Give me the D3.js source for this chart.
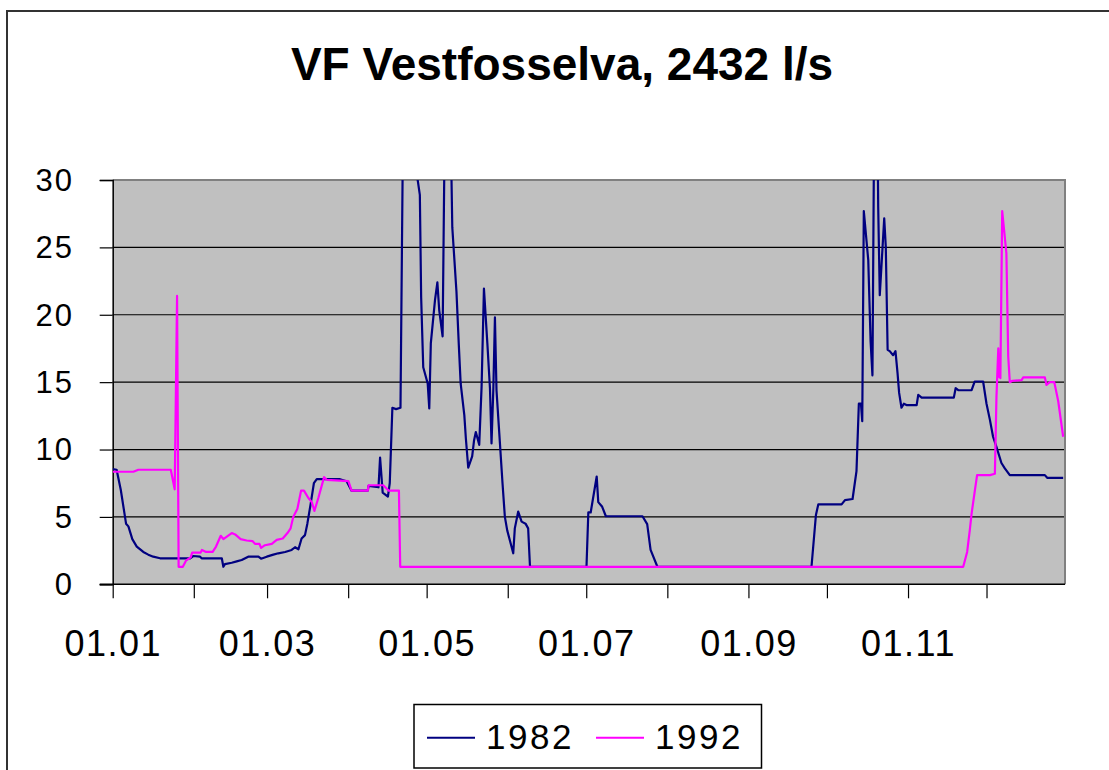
<!DOCTYPE html>
<html><head><meta charset="utf-8">
<script src="https://cdn.jsdelivr.net/npm/d3@7"></script>
<style>body{margin:0;background:#fff}svg{display:block}</style>
</head><body><svg id="c" width="1109" height="770"></svg>
<script>
const title = "VF Vestfosselva, 2432 l/s";
const seriesNames = ["1982", "1992"];
const seriesColors = ["#000080", "#FF00FF"];
const yTicks = [0, 5, 10, 15, 20, 25, 30];
const monthStarts = [0, 31, 59, 90, 120, 151, 181, 212, 243, 273, 304, 334];
const monthLabels = ["01.01", "", "01.03", "", "01.05", "", "01.07", "", "01.09", "", "01.11", ""];

// 1982 (day of year, l/s)
const days1982 = [0,1.5,3.1,4.3,5.1,6.0,7.5,9.2,11.7,13.6,15.5,18.1,29.6,30.8,33.4,34.0,41.7,42.3,42.9,45.5,47.4,49.3,51.8,55.7,56.7,58.9,61.4,63.3,65.9,68.4,69.7,71.0,72.2,73.5,74.4,75.7,76.9,78.0,86.9,89.4,91.3,97.5,97.8,101.6,102.2,103.2,105.2,105.9,106.9,108.3,110.0,111.5,114,116.2,117.4,117.9,118.7,120.4,121.0,121.6,123.2,124.1,124.8,126.1,127.5,128.5,129.8,131.4,132.3,133.0,134.4,135.0,135.9,137.4,138.1,138.8,140.1,141.0,141.9,143.2,144.2,144.8,145.5,146.1,146.7,147.6,149.0,149.9,150.8,152.1,153.1,153.7,155.0,156.3,157.8,158.8,159.5,181.1,181.8,182.7,185.0,185.6,187.1,188.5,202.5,204.3,205.6,208.2,267.1,268.8,269.7,278.6,279.9,282.8,284.3,285.2,286.0,286.5,287.1,288.8,289.7,290.4,291.5,292.3,292.6,293.2,294.9,295.5,296.2,297.0,298.3,299.2,300.0,300.6,301.5,302.4,303.4,307.3,307.9,309.2,321.5,322.2,323.2,328.3,329.5,332.7,334.0,335.3,336.5,337.8,339.7,341.0,342.9,356.3,357.2,363.3];
const vals1982 = [8.55,8.5,7.0,5.5,4.5,4.3,3.35,2.8,2.4,2.2,2.05,1.93,1.93,2.1,2.05,1.93,1.93,1.3,1.5,1.6,1.7,1.8,2.05,2.05,1.9,2.05,2.2,2.3,2.4,2.55,2.75,2.6,3.4,3.65,4.5,6.0,7.5,7.8,7.8,7.65,6.95,6.95,7.3,7.2,9.4,6.8,6.5,7.5,13.1,13.0,13.1,45,40,30.5,28.9,21.3,16.1,14.9,13.05,17.9,21.1,22.4,20.35,18.4,45,42,26.5,21.7,17.75,14.9,12.55,10.8,8.65,9.5,10.65,11.3,10.35,14.65,21.95,17.9,14.55,10.45,14.55,19.8,14.4,11.7,7.5,5.0,4.0,3.05,2.3,4.15,5.4,4.65,4.5,4.15,1.3,1.3,5.33,5.33,8.0,6.1,5.75,5.05,5.05,4.47,2.55,1.3,1.3,5.15,5.93,5.93,6.25,6.33,8.4,13.4,13.4,12.1,27.7,24.05,18.0,15.5,47,35,28.0,21.45,27.15,25.05,17.4,17.3,17.0,17.3,15.65,14.2,13.1,13.4,13.3,13.3,14.05,13.85,13.85,14.55,14.4,14.4,15.05,15.05,13.4,12.2,10.95,10.2,9.0,8.6,8.1,8.1,7.9,7.9];

// 1992 (day of year, l/s)
const days1992 = [0,7.9,9.8,22.2,23.7,24.6,25.2,26.8,28.0,29.8,30.4,33.6,34.1,35.7,38.2,39.5,41.3,42.3,45.5,46.8,48.9,51.2,53.5,54.4,56.1,56.7,58.2,60.8,62.7,65.0,66.8,68.0,69.0,70.6,72.0,73.1,74.8,76.1,77.1,78.6,80.8,81.8,90.1,91.3,97.5,97.8,103.4,105.5,109.4,109.9,325.1,326.6,327.6,328.3,329.5,330.4,335.3,337.2,337.8,338.5,338.8,339.3,340.0,341.6,342.3,342.9,343.9,347.4,348.0,356.3,356.9,358.2,359.9,361.4,363.3];
const vals1992 = [8.35,8.35,8.5,8.5,7.05,21.4,1.3,1.3,1.75,2.0,2.35,2.35,2.55,2.4,2.4,2.8,3.6,3.35,3.8,3.7,3.35,3.25,3.2,3.0,3.0,2.7,2.9,3.0,3.3,3.4,3.8,4.15,5.0,5.6,6.95,6.95,6.4,6.1,5.45,6.4,7.95,7.75,7.65,6.95,6.95,7.35,7.35,6.95,6.95,1.3,1.3,2.4,4.0,5.25,6.9,8.1,8.1,8.2,13.9,17.5,15.4,15.3,27.7,24.55,16.9,15.0,15.1,15.15,15.35,15.35,14.8,15.0,15.0,13.6,10.95];

const svg = d3.select("#c");
const L = 112.7, R = 1065, T = 180, B = 584.3;
const x = d3.scaleLinear().domain([0, 364]).range([L, R]);
const y = d3.scaleLinear().domain([0, 30]).range([B, T]);

// outer chart border (left & top)
svg.append("path").attr("d", "M7,790V11H1120").attr("fill", "none").attr("stroke", "#333").attr("stroke-width", 2);

// title
svg.append("text").attr("x", 562).attr("y", 80).attr("text-anchor", "middle")
  .attr("font-family", "Liberation Sans, Arial, sans-serif").attr("font-weight", "bold")
  .attr("font-size", 46).attr("fill", "#000").text(title);

// plot area
svg.append("rect").attr("x", L).attr("y", T).attr("width", R - L).attr("height", B - T).attr("fill", "#C0C0C0");
// grid
svg.append("g").selectAll("line").data(yTicks.filter(v => v > 0 && v < 30)).join("line")
  .attr("x1", L).attr("x2", R).attr("y1", d => y(d)).attr("y2", d => y(d))
  .attr("stroke", "#000").attr("stroke-width", 1.2);
// top/right border
svg.append("path").attr("d", `M${L},${T}H${R}V${B}`).attr("fill", "none").attr("stroke", "#808080").attr("stroke-width", 2);

// y axis
const yAxis = d3.axisLeft(y).tickValues(yTicks).tickSize(13).tickPadding(0).tickFormat(d3.format("d"));
const gy = svg.append("g").attr("transform", `translate(${L},0)`).call(yAxis);
gy.select(".domain").attr("stroke", "#000").attr("stroke-width", 1.5);
gy.selectAll(".tick line").attr("stroke", "#000").attr("stroke-width", 1.2);
gy.selectAll(".tick text").attr("x", 74 - L).attr("dy", "0.33em")
  .attr("font-family", "Liberation Sans, Arial, sans-serif").attr("font-size", 31)
  .attr("letter-spacing", 2).attr("fill", "#000").attr("text-anchor", "end");

// x axis
const xAxis = d3.axisBottom(x).tickValues(monthStarts).tickSize(14).tickPadding(0)
  .tickFormat((d, i) => monthLabels[i]);
const gx = svg.append("g").attr("transform", `translate(0,${B})`).call(xAxis);
gx.select(".domain").attr("d", `M${L - 13},0H${R}`).attr("stroke", "#000").attr("stroke-width", 1.5);
gx.selectAll(".tick line").attr("stroke", "#000").attr("stroke-width", 1.2);
gx.selectAll(".tick text").attr("y", 72).attr("dy", 0)
  .attr("font-family", "Liberation Sans, Arial, sans-serif").attr("font-size", 36)
  .attr("letter-spacing", 1.5).attr("fill", "#000");

// clip
svg.append("clipPath").attr("id", "clip").append("rect")
  .attr("x", L).attr("y", T).attr("width", R - L).attr("height", B - T);

const line = d3.line().x(d => x(d[0])).y(d => y(d[1]));
const s1982 = d3.zip(days1982, vals1982);
const s1992 = d3.zip(days1992, vals1992);
const gl = svg.append("g").attr("clip-path", "url(#clip)");
[s1982, s1992].forEach((s, i) => {
  gl.append("path").datum(s).attr("d", line).attr("fill", "none")
    .attr("stroke", seriesColors[i]).attr("stroke-width", 2.2).attr("stroke-linejoin", "round");
});

// legend
const lg = svg.append("g");
lg.append("rect").attr("x", 414).attr("y", 704.5).attr("width", 347.5).attr("height", 63.5)
  .attr("fill", "#fff").attr("stroke", "#000").attr("stroke-width", 1.5);
const legendX = [[427, 475, 486], [596, 644, 655]];
seriesNames.forEach((n, i) => {
  lg.append("line").attr("x1", legendX[i][0]).attr("x2", legendX[i][1]).attr("y1", 737.7).attr("y2", 737.7)
    .attr("stroke", seriesColors[i]).attr("stroke-width", 2);
  lg.append("text").attr("x", legendX[i][2]).attr("y", 749)
    .attr("font-family", "Liberation Sans, Arial, sans-serif").attr("font-size", 35)
    .attr("letter-spacing", 2.5).attr("fill", "#000").text(n);
});
</script></body></html>
